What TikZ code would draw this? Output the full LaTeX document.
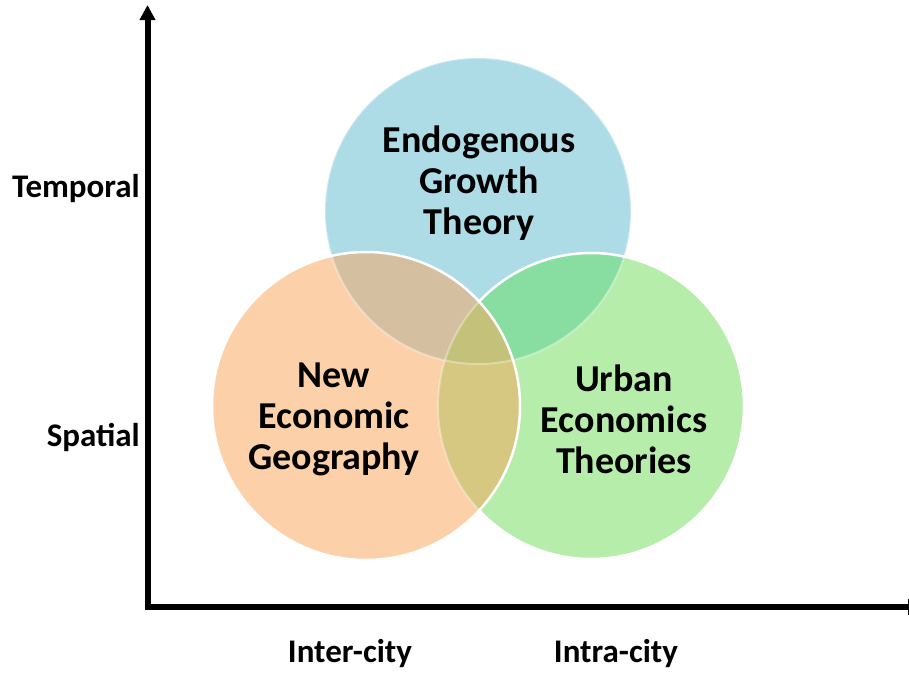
\documentclass[tikz,border=0pt]{standalone}
\usepackage{fontspec}
\setmainfont{Carlito}
\usetikzlibrary{arrows.meta}
\definecolor{cB}{RGB}{173,219,230}
\definecolor{cG}{RGB}{182,237,170}
\definecolor{cO}{RGB}{252,208,168}
\definecolor{cBG}{RGB}{135,222,160}
\definecolor{cBO}{RGB}{212,192,160}
\definecolor{cGO}{RGB}{214,200,128}
\definecolor{cBGO}{RGB}{196,194,122}
\def\pB{(478,211) circle (153pt)}
\def\pG{(591,406) circle (153pt)}
\def\pO{(366,406) circle (154pt)}
\tikzset{
  ctext/.style={font=\bfseries\fontsize{38}{41}\selectfont, align=center, text=black, inner sep=0pt},
  axlabel/.style={font=\bfseries\fontsize{33}{36}\selectfont, text=black, inner sep=0pt},
  axis/.style={line width=6pt, -{Triangle[width=15pt,length=15pt]}},
  rim/.style={draw=white, line width=2.5pt},
  faint/.style={draw=white, line width=2pt, draw opacity=0.35}
}
\newcommand{\fillall}{%
  \fill[cB] \pB; \fill[cG] \pG; \fill[cO] \pO;
  \begin{scope}\clip \pB; \fill[cBG] \pG; \fill[cBO] \pO; \end{scope}
  \begin{scope}\clip \pG; \fill[cGO] \pO; \end{scope}
  \begin{scope}\clip \pB; \clip \pG; \fill[cBGO] \pO; \end{scope}
}
\begin{document}
\begin{tikzpicture}[x=1pt,y=-1pt]
\useasboundingbox (0,0) rectangle (909,672);
\fillall
\path[faint] \pB;
\path[rim] \pG;
\begin{scope}
  \clip \pO;
  \fillall
  \path[faint] \pB;
  \path[faint] \pG;
\end{scope}
\path[rim] \pO;
% axes
\coordinate (ytop) at (147.5,5);
\coordinate (xend) at (923,607);
\draw[axis] (147.5,610) -- (ytop);
\draw[axis] (144.5,607) -- (xend);
% circle texts
\node[ctext] (egt) at (479,183) {Endogenous\\Growth\\Theory};
\node[ctext] (neg) at (334,419) {New\\Economic\\Geography};
\node[ctext] (uet) at (624,419) {Urban\\Economics\\Theories};
% axis labels
\node[axlabel, anchor=east] (temporal) at (140,189) {Temporal};
\node[axlabel, anchor=east] (spatial) at (140,437) {Spatial};
\node[axlabel] (inter) at (350,654) {Inter-city};
\node[axlabel] (intra) at (616,654) {Intra-city};
\end{tikzpicture}
\end{document}
